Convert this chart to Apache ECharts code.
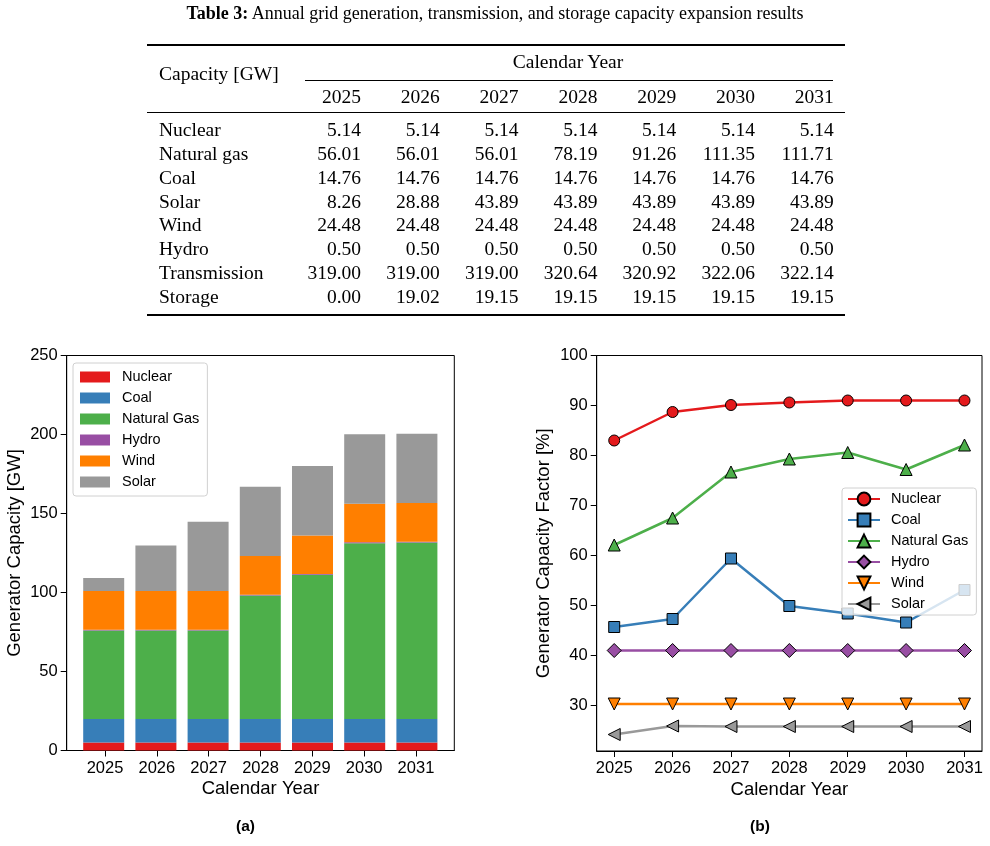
<!DOCTYPE html>
<html lang="en">
<head>
    <meta charset="UTF-8">
    <title>Capacity expansion results</title>
    <script src="https://cdn.jsdelivr.net/npm/echarts@6/dist/echarts.min.js"></script>
    <style>
        body { margin: 0; background: #fff; }
        #page { position: relative; width: 990px; height: 846px; }
        #chart { position: absolute; left: 0; top: 0; width: 990px; height: 846px; }
        #table { position: absolute; left: 0; top: 0; width: 990px; height: 330px; z-index: 2;
                 font-family: "Liberation Serif", "Times New Roman", serif; color: #000; }
        #table div { position: absolute; white-space: nowrap; }
        .rule { background: #000; }
    </style>
</head>
<body>
<div id="page">
    <div id="chart"></div>
    <div id="table"></div>
</div>
<script>
    // ---- data ----
    var years = [2025, 2026, 2027, 2028, 2029, 2030, 2031];

    // table 3 / bar chart (GW)
    var nuclearCap = [5.14, 5.14, 5.14, 5.14, 5.14, 5.14, 5.14];
    var gasCap = [56.01, 56.01, 56.01, 78.19, 91.26, 111.35, 111.71];
    var coalCap = [14.76, 14.76, 14.76, 14.76, 14.76, 14.76, 14.76];
    var solarCap = [8.26, 28.88, 43.89, 43.89, 43.89, 43.89, 43.89];
    var windCap = [24.48, 24.48, 24.48, 24.48, 24.48, 24.48, 24.48];
    var hydroCap = [0.50, 0.50, 0.50, 0.50, 0.50, 0.50, 0.50];
    var transmissionCap = [319.00, 319.00, 319.00, 320.64, 320.92, 322.06, 322.14];
    var storageCap = [0.00, 19.02, 19.15, 19.15, 19.15, 19.15, 19.15];

    // capacity factor (%)
    var nuclearCF = [83.0, 88.7, 90.1, 90.6, 91.0, 91.0, 91.0];
    var coalCF = [45.7, 47.3, 59.4, 49.9, 48.4, 46.6, 53.1];
    var gasCF = [62.1, 67.5, 76.7, 79.3, 80.6, 77.2, 82.1];
    var hydroCF = [41.0, 41.0, 41.0, 41.0, 41.0, 41.0, 41.0];
    var windCF = [30.3, 30.3, 30.3, 30.3, 30.3, 30.3, 30.3];
    var solarCF = [24.2, 25.9, 25.8, 25.8, 25.8, 25.8, 25.8];

    var capTicks = [0, 50, 100, 150, 200, 250];
    var cfTicks = [30, 40, 50, 60, 70, 80, 90, 100];

    var tableRows = [
        ['Nuclear', nuclearCap], ['Natural gas', gasCap], ['Coal', coalCap], ['Solar', solarCap],
        ['Wind', windCap], ['Hydro', hydroCap], ['Transmission', transmissionCap], ['Storage', storageCap]
    ];

    // ---- table (html) ----
    var tbl = document.getElementById('table');
    function addText(txt, x, y, align, size, w) {
        var d = document.createElement('div');
        d.textContent = txt;
        d.style.fontSize = size + 'px';
        d.style.lineHeight = '24px';
        d.style.top = (y - 12) + 'px';
        if (align === 'right') { d.style.left = (x - w) + 'px'; d.style.width = w + 'px'; d.style.textAlign = 'right'; }
        else if (align === 'center') { d.style.left = (x - w / 2) + 'px'; d.style.width = w + 'px'; d.style.textAlign = 'center'; }
        else { d.style.left = x + 'px'; }
        tbl.appendChild(d);
        return d;
    }
    function addRule(x1, x2, y, h) {
        var d = document.createElement('div');
        d.className = 'rule';
        d.style.left = x1 + 'px'; d.style.width = (x2 - x1) + 'px';
        d.style.top = (y - h / 2) + 'px'; d.style.height = h + 'px';
        tbl.appendChild(d);
    }
    var cap = addText('', 495, 13, 'center', 18, 800);
    cap.innerHTML = '<b>Table 3:</b> Annual grid generation, transmission, and storage capacity expansion results';
    addRule(147, 845, 45, 1.5);
    addText('Calendar Year', 568, 62, 'center', 19.5, 200);
    addText('Capacity [GW]', 159, 74, 'left', 19.5);
    addRule(305, 833, 80, 1);
    var colRight = function (i) { return 361 + 78.8 * i; };
    years.forEach(function (y, i) { addText(String(y), colRight(i), 97, 'right', 19.5, 75); });
    addRule(147, 845, 112, 1);
    tableRows.forEach(function (row, r) {
        var yc = 130 + 23.86 * r;
        addText(row[0], 159, yc, 'left', 19.5);
        row[1].forEach(function (v, i) { addText(v.toFixed(2), colRight(i), yc, 'right', 19.5, 78); });
    });
    addRule(147, 845, 315, 1.5);

    // ---- charts ----
    var chart = echarts.init(document.getElementById('chart'));
    var font = '"Liberation Sans", Arial, sans-serif';
    var ink = '#000';

    var colors = {
        Nuclear: '#e41a1c', Coal: '#377eb8', 'Natural Gas': '#4daf4a',
        Hydro: '#984ea3', Wind: '#ff7f00', Solar: '#999999'
    };

    var barDefs = [
        ['Nuclear', nuclearCap], ['Coal', coalCap], ['Natural Gas', gasCap],
        ['Hydro', hydroCap], ['Wind', windCap], ['Solar', solarCap]
    ];
    var lineDefs = [
        ['Nuclear', nuclearCF, 'circle', 11, 0],
        ['Coal', coalCF, 'rect', 11, 0],
        ['Natural Gas', gasCF, 'triangle', 12, 0],
        ['Hydro', hydroCF, 'diamond', 14, 0],
        ['Wind', windCF, 'triangle', 12, 180],
        ['Solar', solarCF, 'triangle', 12, 90]
    ];

    var series = [];
    barDefs.forEach(function (d) {
        series.push({
            name: d[0],
            type: 'bar',
            stack: 'cap',
            xAxisIndex: 2, yAxisIndex: 2,
            barWidth: 41,
            itemStyle: { color: colors[d[0]] },
            data: d[1]
        });
    });
    lineDefs.forEach(function (d) {
        series.push({
            name: 'cf-' + d[0],
            type: 'line',
            xAxisIndex: 1, yAxisIndex: 1,
            symbol: d[2],
            symbolSize: d[3],
            symbolRotate: d[4],
            lineStyle: { color: colors[d[0]], width: 2.5 },
            itemStyle: { color: colors[d[0]], borderColor: '#000', borderWidth: 1 },
            data: years.map(function (y, i) { return [y, d[1][i]]; })
        });
    });

    var axisCommon = {
        axisLine: { show: true, onZero: false, lineStyle: { color: ink, width: 1 } },
        axisTick: { show: true, inside: false, length: 6, lineStyle: { color: ink, width: 1 } },
        axisLabel: { color: ink, fontSize: 16.5, fontFamily: font, margin: 9 },
        splitLine: { show: false },
        nameTextStyle: { color: ink, fontSize: 18.5, fontFamily: font }
    };
    function merge(a, b) { return Object.assign({}, a, b); }
    var yearFmt = function (v) { return String(Math.round(v)); };
    var hidden = { show: false };

    chart.setOption({
        animation: false,
        grid: [
            // left frame + axes
            { left: 66.7, top: 355.5, width: 387.6, height: 395, show: true, borderColor: ink, borderWidth: 1 },
            // right chart
            { left: 596.7, top: 355.5, width: 385.3, height: 395.5, show: true, borderColor: ink, borderWidth: 1 },
            // bars (category slots aligned with the frame ticks)
            { left: 77.6, top: 355.5, width: 365.4, height: 395 }
        ],
        xAxis: [
            merge(axisCommon, {
                gridIndex: 0, type: 'value', min: 2024.26, max: 2031.74,
                name: 'Calendar Year', nameLocation: 'middle', nameGap: 29,
                axisTick: merge(axisCommon.axisTick, { customValues: years }),
                axisLabel: merge(axisCommon.axisLabel, { customValues: years, formatter: yearFmt })
            }),
            merge(axisCommon, {
                gridIndex: 1, type: 'value', min: 2024.7, max: 2031.3,
                name: 'Calendar Year', nameLocation: 'middle', nameGap: 29,
                axisTick: merge(axisCommon.axisTick, { customValues: years }),
                axisLabel: merge(axisCommon.axisLabel, { customValues: years, formatter: yearFmt })
            }),
            { gridIndex: 2, type: 'category', data: years, boundaryGap: true,
              axisLine: hidden, axisTick: hidden, axisLabel: hidden, splitLine: hidden }
        ],
        yAxis: [
            merge(axisCommon, {
                gridIndex: 0, type: 'value', min: 0, max: 250,
                name: 'Generator Capacity [GW]', nameLocation: 'middle', nameGap: 42,
                axisTick: merge(axisCommon.axisTick, { customValues: capTicks }),
                axisLabel: merge(axisCommon.axisLabel, { customValues: capTicks })
            }),
            merge(axisCommon, {
                gridIndex: 1, type: 'value', min: 20.9, max: 100,
                name: 'Generator Capacity Factor [%]', nameLocation: 'middle', nameGap: 43,
                axisTick: merge(axisCommon.axisTick, { customValues: cfTicks }),
                axisLabel: merge(axisCommon.axisLabel, { customValues: cfTicks })
            }),
            { gridIndex: 2, type: 'value', min: 0, max: 250,
              axisLine: hidden, axisTick: hidden, axisLabel: hidden, splitLine: hidden }
        ],
        legend: [
            {
                orient: 'vertical', left: 73, top: 363,
                data: barDefs.map(function (d) { return { name: d[0], icon: 'rect' }; }),
                itemWidth: 30, itemHeight: 11, itemGap: 5,
                padding: [6, 8, 6, 7],
                z: 10,
                backgroundColor: 'rgba(255,255,255,0.8)',
                borderColor: '#d0d0d0', borderWidth: 1, borderRadius: 3,
                textStyle: { color: ink, fontSize: 14.5, fontFamily: font, lineHeight: 16, padding: [0, 0, 0, 7] }
            },
            {
                orient: 'vertical', left: 842, top: 488,
                data: lineDefs.map(function (d) { return 'cf-' + d[0]; }),
                formatter: function (n) { return n.replace('cf-', ''); },
                itemWidth: 32, itemHeight: 16, itemGap: 5,
                padding: [3, 8, 3, 5],
                z: 10,
                backgroundColor: 'rgba(255,255,255,0.8)',
                borderColor: '#d0d0d0', borderWidth: 1, borderRadius: 3,
                textStyle: { color: ink, fontSize: 14.5, fontFamily: font, lineHeight: 16, padding: [0, 0, 0, 6] }
            }
        ],
        graphic: [
            { type: 'text', left: 236, top: 819, style: { text: '(a)', font: 'bold 15.5px ' + font, fill: ink } },
            { type: 'text', left: 750, top: 819, style: { text: '(b)', font: 'bold 15.5px ' + font, fill: ink } }
        ],
        series: series
    });
</script>
</body>
</html>
